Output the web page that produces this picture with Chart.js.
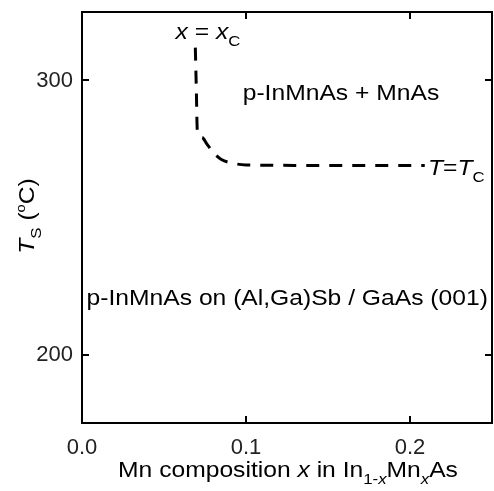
<!DOCTYPE html>
<html>
<head>
<meta charset="utf-8">
<script src="https://cdn.jsdelivr.net/npm/chart.js@4.4.1/dist/chart.umd.min.js"></script>
<style>
  html, body { margin: 0; padding: 0; background: #fff; }
  #wrap { width: 494px; height: 491px; }
</style>
</head>
<body>
<div id="wrap"><canvas id="phaseChart" width="494" height="491"></canvas></div>
<script>
// phase boundary x = xc / T = Tc
const boundaryX = [0.0691, 0.0697, 0.0703, 0.0733, 0.0762, 0.0800, 0.0850, 0.0920, 0.1000, 0.1500, 0.2090];
const boundaryT = [312, 297, 282, 279.2, 276.8, 273.8, 271.2, 269.8, 269.2, 269, 269];

const xTicks = [0.0, 0.1, 0.2];
const yTicks = [200, 300];

const FONT = '"Liberation Sans", Arial, sans-serif';
const SX = 1.12; // the labels in the figure are set a bit wide

// draw a run of text pieces: [text, italic, dy, size]
function drawRuns(ctx, runs, x, y, align) {
  let total = 0;
  runs.forEach(r => {
    ctx.font = (r[1] ? 'italic ' : '') + r[3] + 'px ' + FONT;
    total += ctx.measureText(r[0]).width * SX;
  });
  let cx = align === 'center' ? x - total / 2 : x;
  ctx.textAlign = 'left';
  ctx.textBaseline = 'alphabetic';
  runs.forEach(r => {
    ctx.font = (r[1] ? 'italic ' : '') + r[3] + 'px ' + FONT;
    ctx.save();
    ctx.translate(cx, y + r[2]);
    ctx.scale(SX, 1);
    ctx.fillText(r[0], 0, 0);
    ctx.restore();
    cx += ctx.measureText(r[0]).width * SX;
  });
}

const framePlugin = {
  id: 'frame',
  afterDraw(chart) {
    const { ctx, chartArea: a, scales } = chart;
    const xs = scales.x, ys = scales.y;
    ctx.save();
    ctx.strokeStyle = '#000';
    ctx.lineWidth = 2;
    ctx.strokeRect(a.left, a.top, a.right - a.left, a.bottom - a.top);

    // inward ticks on every side
    const tl = 7;
    ctx.beginPath();
    xTicks.forEach(v => {
      const px = Math.round(xs.getPixelForValue(v));
      ctx.moveTo(px, a.bottom); ctx.lineTo(px, a.bottom - tl);
      ctx.moveTo(px, a.top); ctx.lineTo(px, a.top + tl);
    });
    yTicks.forEach(v => {
      const py = Math.round(ys.getPixelForValue(v));
      ctx.moveTo(a.left, py); ctx.lineTo(a.left + tl, py);
      ctx.moveTo(a.right, py); ctx.lineTo(a.right - tl, py);
    });
    ctx.stroke();

    ctx.fillStyle = '#000';
    // labels inside the plot
    drawRuns(ctx, [['x', true, 0, 22], [' = ', false, 0, 22], ['x', true, 0, 22], ['C', false, 7, 15]],
      xs.getPixelForValue(0.0570), ys.getPixelForValue(315), 'left');
    drawRuns(ctx, [['p-InMnAs + MnAs', false, 0, 22]],
      xs.getPixelForValue(0.1579), ys.getPixelForValue(293), 'center');
    drawRuns(ctx, [['T', true, 0, 22], ['=', false, 0, 22], ['T', true, 0, 22], ['C', false, 7, 15]],
      xs.getPixelForValue(0.2110), ys.getPixelForValue(265.5), 'left');
    drawRuns(ctx, [['p-InMnAs on (Al,Ga)Sb / GaAs (001)', false, 0, 22]],
      xs.getPixelForValue(0.0028), ys.getPixelForValue(218), 'left');

    // x axis title
    drawRuns(ctx, [
      ['Mn composition ', false, 0, 22], ['x', true, 0, 22], [' in In', false, 0, 22],
      ['1-', false, 7, 15], ['x', true, 7, 15], ['Mn', false, 0, 22], ['x', true, 7, 15], ['As', false, 0, 22]
    ], 288, 477, 'center');

    // y axis title, rotated
    ctx.translate(34, 216);
    ctx.rotate(-Math.PI / 2);
    drawRuns(ctx, [['T', true, 0, 22], ['S', false, 7, 15], [' (', false, 0, 22], ['o', false, -9, 13], ['C)', false, 0, 22]],
      0, 0, 'center');
    ctx.restore();
  }
};

new Chart(document.getElementById('phaseChart'), {
  type: 'line',
  data: {
    datasets: [{
      data: boundaryX.map((x, i) => ({ x: x, y: boundaryT[i] })),
      borderColor: '#000',
      borderWidth: 3,
      borderDash: [13, 10],
      pointRadius: 0,
      cubicInterpolationMode: 'monotone',
      fill: false
    }]
  },
  plugins: [framePlugin],
  options: {
    responsive: false,
    animation: false,
    layout: { padding: { top: 12, right: 2, left: 0, bottom: 0 } },
    plugins: { legend: { display: false }, tooltip: { enabled: false } },
    scales: {
      x: {
        type: 'linear',
        min: 0, max: 0.25,
        grid: { display: false, drawTicks: false },
        border: { display: false },
        afterBuildTicks: s => { s.ticks = xTicks.map(v => ({ value: v })); },
        afterFit: s => { s.height = 68; s.paddingLeft = 0; s.paddingRight = 0; },
        ticks: {
          color: '#222',
          padding: 12,
          font: { family: FONT, size: 22 },
          callback: v => v.toFixed(1)
        }
      },
      y: {
        type: 'linear',
        min: 175, max: 325,
        grid: { display: false, drawTicks: false },
        border: { display: false },
        afterBuildTicks: s => { s.ticks = yTicks.map(v => ({ value: v })); },
        afterFit: s => { s.width = 82; s.paddingTop = 0; s.paddingBottom = 0; },
        ticks: {
          color: '#222',
          padding: 9,
          font: { family: FONT, size: 22 },
          callback: v => String(v)
        }
      }
    }
  }
});
</script>
</body>
</html>
